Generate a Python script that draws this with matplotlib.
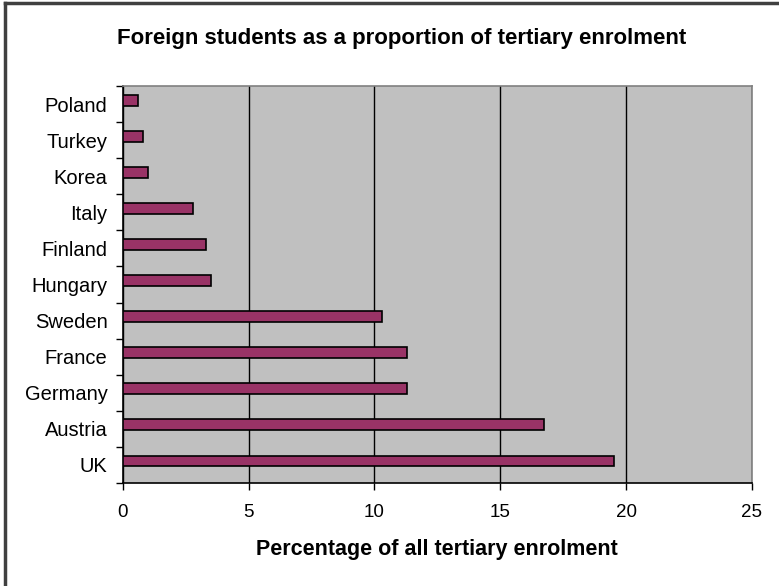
import matplotlib
matplotlib.use("Agg")
import matplotlib.pyplot as plt
from matplotlib.lines import Line2D

countries = ["UK", "Austria", "Germany", "France", "Sweden",
             "Hungary", "Finland", "Italy", "Korea", "Turkey", "Poland"]
shares = [19.5, 16.75, 11.3, 11.3, 10.3, 3.5, 3.3, 2.8, 1.0, 0.8, 0.6]
x_ticks = [0, 5, 10, 15, 20, 25]

plt.rcParams["font.family"] = ["Liberation Sans", "DejaVu Sans"]

fig = plt.figure(figsize=(7.79, 5.86), dpi=100)
ax = fig.add_axes([0.1575, 0.1758, 0.8078, 0.6774])
ax.set_facecolor("#C0C0C0")

ypos = list(range(len(countries)))
# bars sit slightly above the category centre (second, empty series slot)
bar_pos = [y + 0.11 for y in ypos]
ax.barh(bar_pos, shares, height=0.30, color="#993366",
        edgecolor="black", linewidth=1.2, zorder=3)

ax.set_xlim(0, 25)
ax.set_ylim(-0.5, len(countries) - 0.5)
ax.set_xticks(x_ticks)
ax.set_xticklabels([str(t) for t in x_ticks], fontsize=13.5)
ax.tick_params(axis="x", length=5, width=1, direction="out", pad=10)

# category labels centred in each band, tick marks between categories
ax.set_yticks(ypos)
ax.set_yticklabels(countries, fontsize=14.5)
ax.tick_params(axis="y", which="major", length=0, pad=11)
ax.set_yticks([i - 0.5 for i in range(len(countries) + 1)], minor=True)
ax.tick_params(axis="y", which="minor", length=5, width=1, direction="out")

ax.xaxis.grid(True, color="black", linewidth=1)
ax.set_axisbelow(True)

ax.spines["left"].set_color("black")
ax.spines["bottom"].set_color("black")
ax.spines["top"].set_color("#808080")
ax.spines["right"].set_color("#808080")
for s in ax.spines.values():
    s.set_linewidth(1.2)

ax.set_xlabel("Percentage of all tertiary enrolment", fontsize=15.5,
              fontweight="bold", labelpad=13)
fig.text(0.515, 0.934, "Foreign students as a proportion of tertiary enrolment",
         ha="center", va="center", fontsize=16, fontweight="bold")

# chart-area frame (left and top edges)
fig.add_artist(Line2D([4.5 / 779, 4.5 / 779], [0, 1 - 2.5 / 586],
                      transform=fig.transFigure, color="#404040", linewidth=2.5))
fig.add_artist(Line2D([4.5 / 779, 1], [1 - 2.5 / 586, 1 - 2.5 / 586],
                      transform=fig.transFigure, color="#404040", linewidth=2.5))

fig.savefig("out.png", dpi=100, facecolor="white")
